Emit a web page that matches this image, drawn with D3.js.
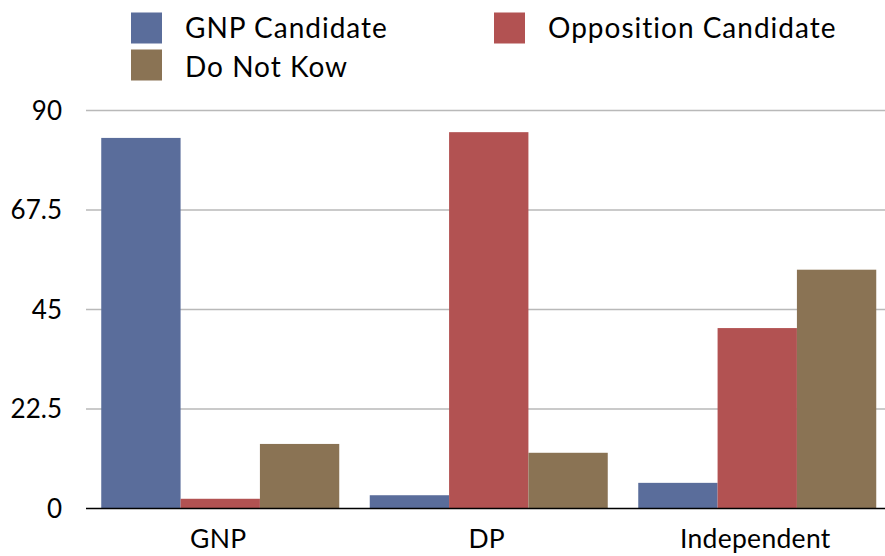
<!DOCTYPE html>
<html>
<head>
<meta charset="utf-8">
<script src="https://cdn.jsdelivr.net/npm/d3@7"></script>
<style>
  body { margin: 0; background: #fff; }
  svg { display: block; font-family: "Lato", "Open Sans", sans-serif; }
</style>
</head>
<body>
<div id="chart"></div>
<script>
const categories = ['GNP', 'DP', 'Independent']
const seriesNames = ['GNP Candidate', 'Opposition Candidate', 'Do Not Kow']
const gnpCandidate = [83.8, 3.0, 5.8]
const oppositionCandidate = [2.2, 85.1, 40.8]
const doNotKnow = [14.6, 12.6, 54.0]
const yTicks = [0, 22.5, 45, 67.5, 90]
const yTickLabels = ['0', '22.5', '45', '67.5', '90']

const colors = ['#5a6d9b', '#b25252', '#8a7354']
const seriesValues = [gnpCandidate, oppositionCandidate, doNotKnow]

const W = 885, H = 556
const svg = d3.select('#chart').append('svg')
  .attr('width', W)
  .attr('height', H)

const x0 = d3.scaleBand()
  .domain(categories)
  .range([86, 891.5])
  .paddingInner(0.1136)
  .paddingOuter(0.0568)

const x1 = d3.scaleBand()
  .domain(seriesNames)
  .range([0, x0.bandwidth()])

const y = d3.scaleLinear()
  .domain([0, 90])
  .range([508.5, 110.5])

// gridlines
svg.append('g')
  .selectAll('line')
  .data(yTicks.filter(d => d > 0))
  .enter()
  .append('line')
  .attr('x1', 86)
  .attr('x2', W)
  .attr('y1', d => y(d))
  .attr('y2', d => y(d))
  .attr('stroke', '#b9b9b9')
  .attr('stroke-width', 1.3)

// y labels
svg.append('g')
  .selectAll('text')
  .data(yTicks)
  .enter()
  .append('text')
  .attr('x', 62)
  .attr('y', d => y(d))
  .attr('dy', '0.36em')
  .attr('text-anchor', 'end')
  .attr('font-size', 26)
  .attr('fill', '#000')
  .text((d, i) => yTickLabels[i])

// bars
const rows = categories.map((c, i) => ({
  cat: c,
  vals: seriesNames.map((s, j) => ({ s: s, v: seriesValues[j][i], c: colors[j] }))
}))

svg.append('g')
  .selectAll('g')
  .data(rows)
  .enter()
  .append('g')
  .attr('transform', d => `translate(${x0(d.cat)},0)`)
  .selectAll('rect')
  .data(d => d.vals)
  .enter()
  .append('rect')
  .attr('x', d => x1(d.s))
  .attr('y', d => y(d.v))
  .attr('width', x1.bandwidth())
  .attr('height', d => y(0) - y(d.v))
  .attr('fill', d => d.c)

// x axis line
svg.append('line')
  .attr('x1', 86)
  .attr('x2', W)
  .attr('y1', y(0))
  .attr('y2', y(0))
  .attr('stroke', '#000')
  .attr('stroke-width', 1.5)

// x labels
svg.append('g')
  .selectAll('text')
  .data(categories)
  .enter()
  .append('text')
  .attr('x', d => x0(d) + x0.bandwidth() / 2 - 2)
  .attr('y', 548)
  .attr('text-anchor', 'middle')
  .attr('font-size', 26.5)
  .attr('letter-spacing', 0.3)
  .attr('fill', '#000')
  .text(d => d)

// legend: [swatch x, swatch y, text baseline]
const legendPos = [[131, 12.5, 37.5], [494, 12.5, 37.5], [131, 49.5, 77]]
const legend = svg.append('g')
  .selectAll('g')
  .data(seriesNames)
  .enter()
  .append('g')

legend.append('rect')
  .attr('x', (d, i) => legendPos[i][0])
  .attr('y', (d, i) => legendPos[i][1])
  .attr('width', 31)
  .attr('height', 31)
  .attr('fill', (d, i) => colors[i])

legend.append('text')
  .attr('x', (d, i) => legendPos[i][0] + 54)
  .attr('y', (d, i) => legendPos[i][2])
  .attr('font-size', 28)
  .attr('letter-spacing', 1)
  .attr('fill', '#000')
  .text(d => d)
</script>
</body>
</html>
